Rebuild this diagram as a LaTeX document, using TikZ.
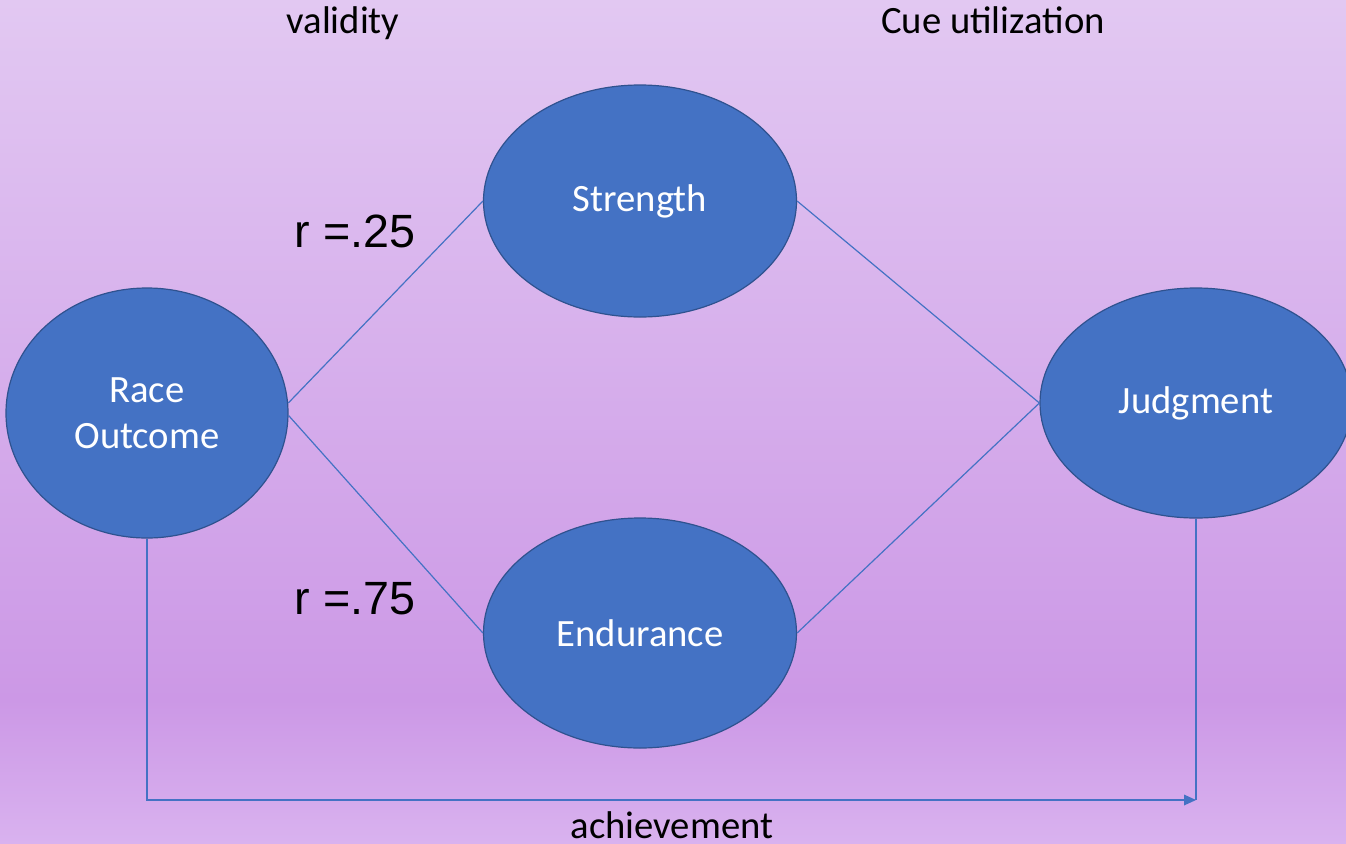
\documentclass[tikz,border=0pt]{standalone}
\usepackage{fontspec}
\setmainfont{Carlito}
\newfontfamily\rfont{Liberation Sans}
\usetikzlibrary{arrows.meta,shapes.geometric}
\definecolor{nodefill}{HTML}{4472C4}
\definecolor{nodeedge}{HTML}{2F528F}
\definecolor{bgtop}{HTML}{E2C8F2}
\definecolor{bgmid}{HTML}{CC98E6}
\definecolor{bgbot}{HTML}{D9B2EF}
\pgfdeclareverticalshading{bgshade}{100bp}{color(0bp)=(bgbot); color(25bp)=(bgbot); color(33.5bp)=(bgmid); color(75bp)=(bgtop); color(100bp)=(bgtop)}
\tikzset{
  ell/.style={ellipse, draw=nodeedge, line width=0.9pt, fill=nodefill, text=white,
    font=\fontsize{29}{34.5}\selectfont, inner sep=0pt, align=center},
  conn/.style={draw=nodefill, line width=0.9pt},
  lbl/.style={font=\fontsize{29}{34}\selectfont, text=black, inner sep=0pt, anchor=base},
  rlbl/.style={font=\rfont\fontsize{35}{40}\selectfont, text=black, inner sep=0pt, anchor=base}
}
\begin{document}
\begin{tikzpicture}[x=0.75pt,y=-0.75pt]
\shade[shading=bgshade] (0,0) rectangle (1346,843);
\useasboundingbox (0,0) rectangle (1346,843);

\node[ell, minimum width=211.5pt, minimum height=187.5pt] (race) at (147,413) {Race\\Outcome};
\node[ell, minimum width=234.75pt, minimum height=174pt] (strength) at (640,201) {Strength};
\node[ell, minimum width=234.75pt, minimum height=172.5pt] (endurance) at (640,633) {Endurance};
\node[ell, minimum width=234pt, minimum height=172.5pt] (judg) at (1196,403) {Judgment};

\draw[conn] (race.4) -- (strength.west);
\draw[conn] (race.-1) -- (endurance.west);
\draw[conn] (strength.east) -- (judg.west);
\draw[conn] (endurance.east) -- (judg.west);

\coordinate (corner) at (1196,800);
\draw[conn, -{Triangle[length=9pt,width=8pt]}] (race.south) |- (corner);
\draw[conn] (judg.south) -- (corner);

\node[lbl] (validity) at (343,33) {validity};
\node[lbl] (cue) at (993,33) {Cue utilization};
\node[lbl] (ach) at (672,838) {achievement};
\node[rlbl] (r1) at (355,247) {r =.25};
\node[rlbl] (r2) at (355,614) {r =.75};
\end{tikzpicture}
\end{document}
